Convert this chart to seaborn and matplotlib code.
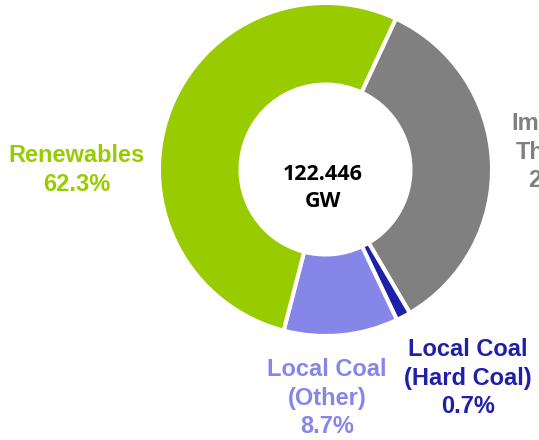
import matplotlib
matplotlib.use("Agg")
import matplotlib.pyplot as plt
import seaborn as sns
import pandas as pd

# ---- data (segment sizes as drawn, labels as printed) ----
categories = ["Imported Thermal", "Local Coal (Hard Coal)", "Local Coal (Other)", "Renewables"]
drawn_share = [34.6, 1.4, 11.1, 52.9]
label_texts = ["Imported\nThermal\n28.3%", "Local Coal\n(Hard Coal)\n0.7%",
               "Local Coal\n(Other)\n8.7%", "Renewables\n62.3%"]
colors = ["#808080", "#1F1FA8", "#8686E8", "#99CC00"]
center_text = "122.446\nGW"

df = pd.DataFrame({"category": categories, "share": drawn_share,
                   "label": label_texts, "color": colors})

sns.set_theme(style="white")
plt.rcParams["font.family"] = ["Liberation Sans", "DejaVu Sans"]

W, H = 539, 440
fig = plt.figure(figsize=(W / 100, H / 100), dpi=100)
ax = fig.add_axes([0, 0, 1, 1])

cx, cy = 325.5, H - 169.5
R_out, R_in = 166.5, 85.0
ax.pie(df["share"], colors=df["color"], startangle=65, counterclock=False,
       center=(cx, cy), radius=R_out,
       wedgeprops=dict(width=R_out - R_in, edgecolor="white", linewidth=2.9))

ax.set_xlim(0, W)
ax.set_ylim(0, H)
ax.set_aspect("equal")
ax.axis("off")

# label positions (pixel coords, y from top)
label_pos = {
    "Imported Thermal": (562, 152),
    "Local Coal (Hard Coal)": (468, 378),
    "Local Coal (Other)": (327, 398),
    "Renewables": (77, 170),
}
for _, row in df.iterrows():
    x, y = label_pos[row["category"]]
    ax.text(x, H - y, row["label"], ha="center", va="center", color=row["color"],
            fontsize=17, fontweight="bold", linespacing=1.33,
            family=["Liberation Sans", "DejaVu Sans"])

ax.text(cx - 2.5, H - 188, center_text, ha="center", va="center", color="black",
        fontsize=15.5, fontweight="bold", linespacing=1.42,
        family=["Open Sans", "DejaVu Sans"])

fig.savefig("out.png", dpi=100, facecolor="white")
